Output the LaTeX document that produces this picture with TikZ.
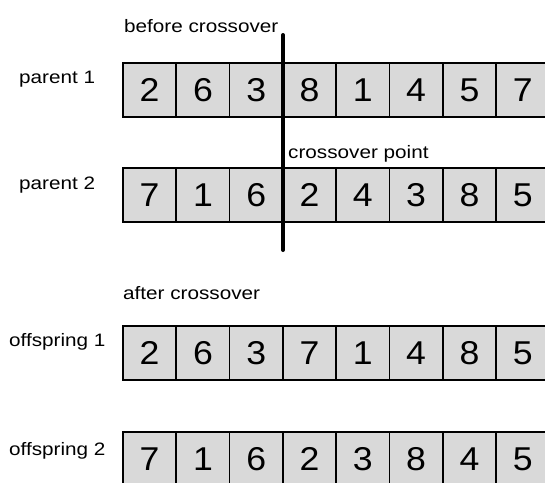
\documentclass[tikz,border=0pt]{standalone}
\usepackage{fontspec}
\setmainfont{Liberation Sans}
\newfontfamily\labelfont[FakeStretch=1.15]{Liberation Sans}
\newfontfamily\digitfont[FakeStretch=1.08]{Liberation Sans}
\definecolor{cellgray}{RGB}{217,217,217}
\begin{document}
\begin{tikzpicture}[x=1pt,y=-1pt,
  gene/.style={draw=black, line width=1.7pt, fill=cellgray,
    minimum width=53.3pt, minimum height=54pt, inner sep=0pt,
    font=\digitfont\fontsize{33}{36}\selectfont},
  tag/.style={anchor=base west, inner sep=0pt,
    font=\labelfont\fontsize{18}{21}\selectfont},
  cut/.style={line width=4pt, line cap=round}]
\useasboundingbox (0,0) rectangle (545,482);
\clip (0,0) rectangle (545,482);
\fill[white] (0,0) rectangle (545,482);

% chromosomes: eight genes each
\foreach \d [count=\i] in {2,6,3,8,1,4,5,7}
  \node[gene] (pa\i) at ({123+53.3*(\i-0.5)},90) {\d};
\foreach \d [count=\i] in {7,1,6,2,4,3,8,5}
  \node[gene] (pb\i) at ({123+53.3*(\i-0.5)},195) {\d};
\foreach \d [count=\i] in {2,6,3,7,1,4,8,5}
  \node[gene] (oa\i) at ({123+53.3*(\i-0.5)},353) {\d};
\foreach \d [count=\i] in {7,1,6,2,3,8,4,5}
  \node[gene] (ob\i) at ({123+53.3*(\i-0.5)},459) {\d};

% crossover cut
\coordinate (cuttop) at (283,35);
\coordinate (cutbot) at (283,250);
\draw[cut] (cuttop) -- (cutbot);

% labels
\node[tag] (before) at (124,32) {before crossover};
\node[tag] (par1) at (19,83) {parent 1};
\node[tag] (cpoint) at (288,158) {crossover point};
\node[tag] (par2) at (19,189) {parent 2};
\node[tag] (after) at (123,299) {after crossover};
\node[tag] (off1) at (9,346) {offspring 1};
\node[tag] (off2) at (9,455) {offspring 2};
\end{tikzpicture}
\end{document}
